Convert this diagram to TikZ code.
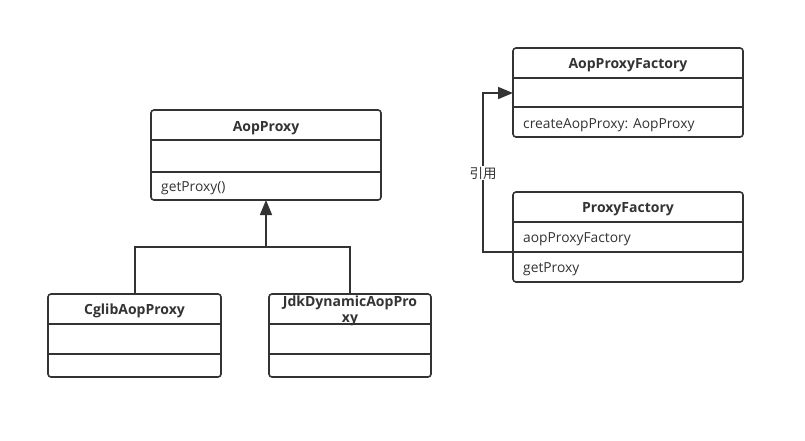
\documentclass[tikz,border=0pt]{standalone}
\usepackage{fontspec}
\setmainfont{Open Sans}
\newfontfamily\cjkfont{Noto Sans CJK SC}
\usetikzlibrary{arrows.meta}
\definecolor{ink}{HTML}{333333}
\tikzset{
  box/.style={draw=ink, line width=1.6pt, rounded corners=3pt, fill=white},
  divider/.style={draw=ink, line width=1.6pt},
  title/.style={font=\fontsize{14}{16}\selectfont\bfseries, text=ink, inner sep=0pt, yshift=-2pt},
  member/.style={font=\fontsize{13.8}{16}\selectfont, text=ink, inner sep=0pt, anchor=west, yshift=-2pt},
  conn/.style={draw=ink, line width=1.6pt},
  tri/.style={-{Triangle[length=15pt,width=12pt]}},
}
\begin{document}
\begin{tikzpicture}[x=1pt,y=-1pt]
\useasboundingbox (0,0) rectangle (805,440);
% AopProxy
\draw[box] (151,110) rectangle (381,200);
\draw[divider] (151,140) -- (381,140) (151,172) -- (381,172);
\node[title] (aop) at (266,126) {AopProxy};
\node[member] (aopm) at (161,186) {getProxy()};
\coordinate (aopB) at (266,200);
% Cglib
\draw[box] (48,294) rectangle (221,377);
\draw[divider] (48,324) -- (221,324) (48,354) -- (221,354);
\node[title] (cglib) at (134.5,309) {CglibAopProxy};
\coordinate (cglibT) at (135,294);
% Jdk
\draw[box] (269,294) rectangle (431,377);
\draw[divider] (269,324) -- (431,324) (269,354) -- (431,354);
\node[title, align=center] (jdk) at (350,309) {JdkDynamicAopPro\\xy};
\coordinate (jdkT) at (350,294);
% inheritance
\coordinate (join) at (266,247);
\draw[conn] (cglibT) |- (join) -| (jdkT);
\draw[conn, tri] (join) -- (aopB);
% AopProxyFactory
\draw[box] (513,48) rectangle (743,137);
\draw[divider] (513,78) -- (743,78) (513,107) -- (743,107);
\node[title] (apf) at (628,63) {AopProxyFactory};
\node[member] (apfm) at (523,123) {createAopProxy: AopProxy};
\coordinate (apfL) at (513,93);
% ProxyFactory
\draw[box] (513,192) rectangle (743,282);
\draw[divider] (513,222) -- (743,222) (513,252) -- (743,252);
\node[title] (pf) at (628,207) {ProxyFactory};
\node[member] (pfa) at (523,237) {aopProxyFactory};
\node[member] (pfg) at (523,267) {getProxy};
\coordinate (pfL) at (513,252);
% reference
\draw[conn, tri] (pfL) -- (483,252) -- (483,93) -- (apfL);
\node[fill=white, inner sep=1pt, text=ink, font=\cjkfont\fontsize{13.5}{15}\selectfont] (ref) at (483,173) {引用};
\end{tikzpicture}
\end{document}
